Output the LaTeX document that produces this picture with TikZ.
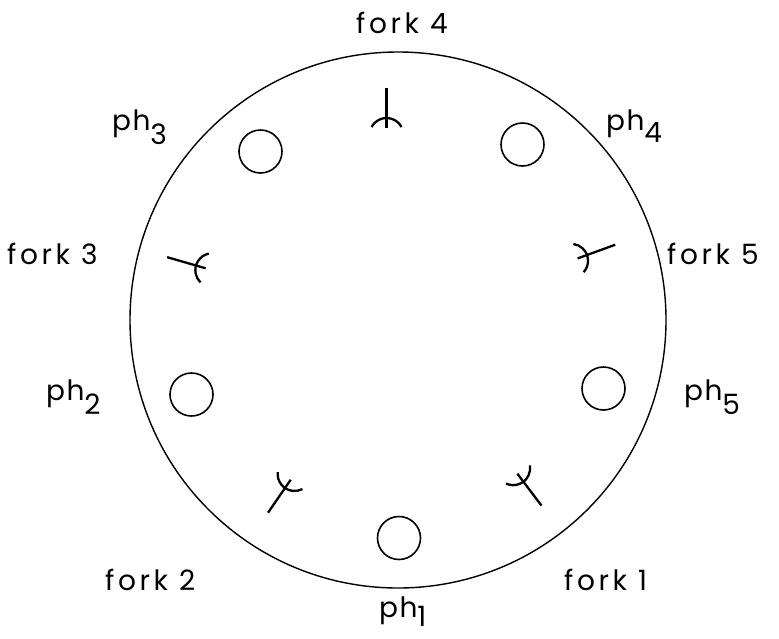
\documentclass[tikz,border=0pt]{standalone}
\usepackage{fontspec}
\setmainfont{Poppins}
\newfontfamily\forkfont{Poppins}[LetterSpace=13]
\newfontfamily\phfont{Poppins}[LetterSpace=5]
\begin{document}
\begin{tikzpicture}[x=1pt,y=1pt,
  table/.style={draw, line width=1.4pt},
  philo/.style={draw, circle, line width=1.6pt, minimum size=43pt, inner sep=0pt},
  forkline/.style={line width=2.3pt},
  lbl/.style={anchor=base west, inner sep=0pt},
  flbl/.style={lbl, font=\fontsize{28}{28}\selectfont\forkfont},
  plbl/.style={lbl, font=\fontsize{28}{28}\selectfont\phfont},
  fork/.pic={
    \draw[forkline] (-10pt,0pt) -- (30pt,0pt);
    \draw[forkline] (-17pt,0pt) ++(-62:17pt) arc[start angle=-62, end angle=62, radius=17pt];
  }]
\newcommand\phsub[2][14pt]{ph\hspace{0pt}\raisebox{-#1}{#2}}
\useasboundingbox (0,0) rectangle (779,-638);
\node[table, circle, minimum size=536pt, inner sep=0pt] (tbl) at (398,-320) {};
% philosophers
\node[philo] (p1) at (399,-538) {};
\node[philo] (p2) at (191.5,-394.5) {};
\node[philo] (p3) at (260.5,-151.5) {};
\node[philo] (p4) at (522.5,-144.5) {};
\node[philo] (p5) at (603.5,-388.5) {};
% forks
\pic[rotate=90] at (386.5,-118) {fork};
\pic[rotate=163.9] at (196,-265.5) {fork};
\pic[rotate=20] at (587,-255) {fork};
\pic[rotate=-52.9] at (523.4,-481.7) {fork};
\pic[rotate=235.5] at (285,-488) {fork};
% labels
\node[flbl] (lf4) at (356,-33) {fork 4};
\node[flbl] (lf3) at (7,-264) {fork 3};
\node[flbl] (lf5) at (667,-264) {fork 5};
\node[flbl] (lf2) at (105,-590) {fork 2};
\node[flbl] (lf1) at (564,-590) {fork 1};
\node[plbl] (lp3) at (112,-130) {\phsub{3}};
\node[plbl] (lp4) at (606,-130) {\phsub[12pt]{4}};
\node[plbl] (lp2) at (46,-400) {\phsub{2}};
\node[plbl] (lp5) at (684,-400) {\phsub{5}};
\node[plbl] (lp1) at (379,-617) {\phsub[9pt]{1}};
\end{tikzpicture}
\end{document}
